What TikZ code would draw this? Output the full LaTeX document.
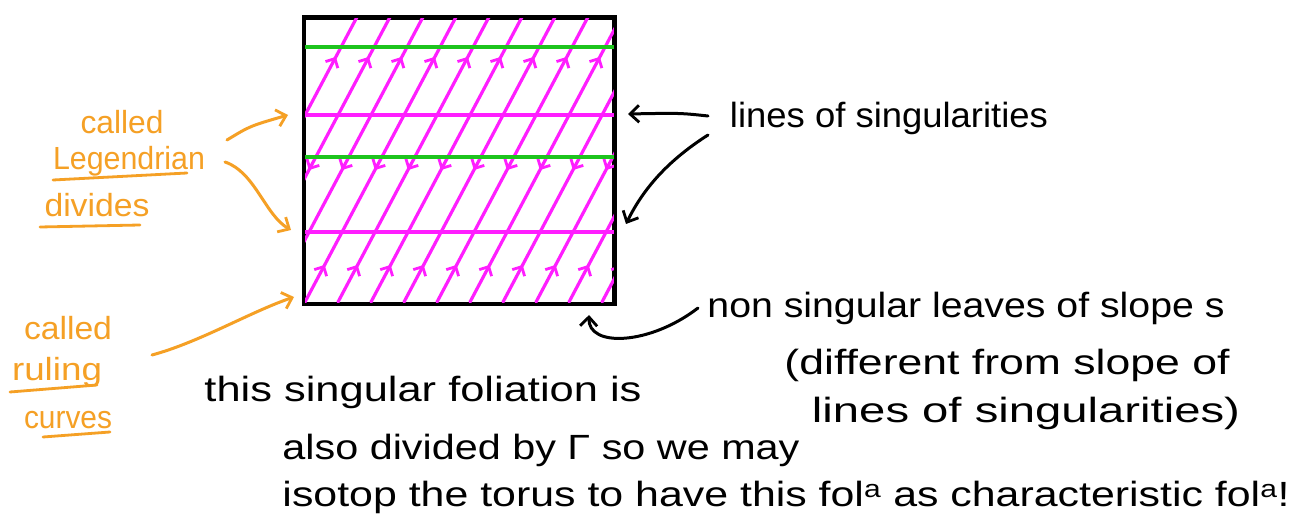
\documentclass[tikz,border=0pt]{standalone}
\usepackage{fontspec}
\setmainfont{Liberation Sans}
\usetikzlibrary{arrows.meta,decorations.markings}
\definecolor{mag}{HTML}{FF1EFF}
\definecolor{grn}{HTML}{1DC41D}
\definecolor{org}{HTML}{F5A025}
\newcommand{\hw}[2]{\resizebox{#1pt}{\height}{\fontsize{35}{40}\selectfont #2}}
\newcommand{\ow}[2]{\resizebox{#1pt}{\height}{\fontsize{32}{38}\selectfont #2}}
\begin{document}
\begin{tikzpicture}[x=1pt,y=-1pt,
  txt/.style={inner sep=0pt, anchor=center, text=black},
  otxt/.style={inner sep=0pt, anchor=center, text=org},
  barb/.style={-{Straight Barb[length=9pt,width=17pt,line width=2.8pt]}, line width=3pt, line cap=round},
  oarrow/.style={barb, draw=org},
  karrow/.style={barb, draw=black},
  uline/.style={draw=org, line width=2.8pt, line cap=round},
  sing/.style={line width=3.2pt},
  leaf/.style={draw=mag, color=mag, line width=3.2pt, line cap=round, postaction={decorate},
    decoration={markings,
     mark=at position 0.13 with {\arrow{Straight Barb[length=7pt,width=14pt,line width=2.8pt]}},
     mark=at position 0.463 with {\arrowreversed{Straight Barb[length=7pt,width=14pt,line width=2.8pt]}},
     mark=at position 0.86 with {\arrow{Straight Barb[length=7pt,width=14pt,line width=2.8pt]}}}},
  ]
\useasboundingbox (0,0) rectangle (1293,529);
\fill[white] (0,0) rectangle (1293,529);

% torus square
\node (sq) [draw, line width=3pt, minimum width=309pt, minimum height=285pt, inner sep=0pt, anchor=north west] at (303,17) {};

% leaves
\begin{scope}
  \clip (sq.south west) rectangle (sq.north east);
  \foreach \k in {0,...,12} {
    \draw[leaf] ({206+33*\k},302) -- ({357+33*\k},17);
  }
\end{scope}

% lines of singularities
\draw[sing, grn] (sq.west |- 0,47) -- (sq.east |- 0,47);
\draw[sing, mag] (sq.west |- 0,115) -- (sq.east |- 0,115);
\draw[sing, grn] (sq.west |- 0,157) -- (sq.east |- 0,157);
\draw[sing, mag] (sq.west |- 0,232) -- (sq.east |- 0,232);
\draw[line width=3pt] (sq.south west) rectangle (sq.north east);

% black texts
\node[txt] (lines1) at (889,118) {\hw{318}{lines of singularities}};
\node[txt] (nonsing) at (966,308) {\hw{517}{non singular leaves of slope s}};
\node[txt] (diff) at (1007,365) {\hw{445}{(different from slope of}};
\node[txt] (lines2) at (1026,413) {\hw{428}{lines of singularities)}};
\node[txt] (this) at (423,392) {\hw{437}{this singular foliation is}};
\node[txt] (also) at (541,450) {\hw{517}{also divided by Γ so we may}};
\node[txt] (isotop) at (786,497) {\hw{1007}{isotop the torus to have this fol\textsuperscript{a} as characteristic fol\textsuperscript{a}!}};

% orange texts
\node[otxt] (called1) at (122,122) {\ow{83}{called}};
\node[otxt] (legendrian) at (129,161) {\ow{152}{Legendrian}};
\node[otxt] (divides) at (97,205) {\ow{105}{divides}};
\node[otxt] (called2) at (68,328) {\ow{88}{called}};
\node[otxt] (ruling) at (57,372) {\ow{90}{ruling}};
\node[otxt] (curves) at (68,420) {\ow{88}{curves}};

% underlines
\draw[uline] (53,180) -- (187,173);
\draw[uline] (40,227) -- (140,225);
\draw[uline] (10,392) -- (97,385);
\draw[uline] (43,437) -- (110,432);

% arrow end points
\coordinate (a1s) at (227,140);
\coordinate (a1e) at (288,115);
\coordinate (a2s) at (225,162);
\coordinate (a2e) at (291,230);
\coordinate (a3s) at (152,355);
\coordinate (a3e) at (294,297);
\coordinate (b1s) at (708,116);
\coordinate (b1e) at (628,114);
\coordinate (b2s) at (708,135);
\coordinate (b2e) at (626,224);
\coordinate (b3s) at (698,308);
\coordinate (b3e) at (589,315);

% orange arrows
\draw[oarrow] (a1s) .. controls (250,126) .. (a1e);
\draw[oarrow] (a2s) .. controls (255,172) and (265,215) .. (a2e);
\draw[oarrow] (a3s) .. controls (200,342) and (250,312) .. (a3e);

% black arrows
\draw[karrow] (b1s) .. controls (680,113) .. (b1e);
\draw[karrow] (b2s) .. controls (672,158) and (645,185) .. (b2e);
\draw[karrow] (b3s) .. controls (650,345) and (588,348) .. (b3e);
\end{tikzpicture}
\end{document}
